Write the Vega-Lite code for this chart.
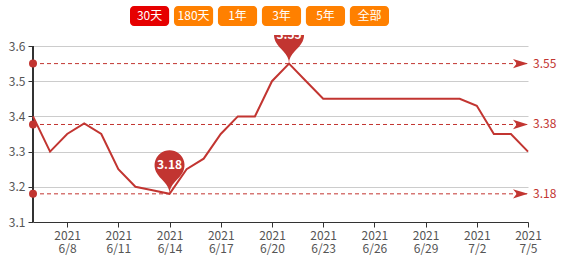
{
  "$schema": "https://vega.github.io/schema/vega-lite/v6.json",
  "autosize": {"type": "none"},
  "padding": {"left": 33, "top": 35, "right": 37, "bottom": 37},
  "width": 495,
  "height": 187,
  "background": "white",
  "config": {
    "font": "Noto Sans CJK SC",
    "view": {"stroke": null}
  },
  "datasets": {
    "price": [
      {"date": "2021-06-06", "value": 3.40},
      {"date": "2021-06-07", "value": 3.30},
      {"date": "2021-06-08", "value": 3.35},
      {"date": "2021-06-09", "value": 3.38},
      {"date": "2021-06-10", "value": 3.35},
      {"date": "2021-06-11", "value": 3.25},
      {"date": "2021-06-12", "value": 3.20},
      {"date": "2021-06-13", "value": 3.19},
      {"date": "2021-06-14", "value": 3.18},
      {"date": "2021-06-15", "value": 3.25},
      {"date": "2021-06-16", "value": 3.28},
      {"date": "2021-06-17", "value": 3.35},
      {"date": "2021-06-18", "value": 3.40},
      {"date": "2021-06-19", "value": 3.40},
      {"date": "2021-06-20", "value": 3.50},
      {"date": "2021-06-21", "value": 3.55},
      {"date": "2021-06-22", "value": 3.50},
      {"date": "2021-06-23", "value": 3.45},
      {"date": "2021-06-24", "value": 3.45},
      {"date": "2021-06-25", "value": 3.45},
      {"date": "2021-06-26", "value": 3.45},
      {"date": "2021-06-27", "value": 3.45},
      {"date": "2021-06-28", "value": 3.45},
      {"date": "2021-06-29", "value": 3.45},
      {"date": "2021-06-30", "value": 3.45},
      {"date": "2021-07-01", "value": 3.45},
      {"date": "2021-07-02", "value": 3.43},
      {"date": "2021-07-03", "value": 3.35},
      {"date": "2021-07-04", "value": 3.35},
      {"date": "2021-07-05", "value": 3.30}
    ],
    "buttons": [
      {"label": "30天", "state": "on"},
      {"label": "180天", "state": "off"},
      {"label": "1年", "state": "off"},
      {"label": "3年", "state": "off"},
      {"label": "5年", "state": "off"},
      {"label": "全部", "state": "off"}
    ]
  },
  "layer": [
    {
      "data": {"name": "price"},
      "encoding": {
        "x": {
          "field": "date",
          "type": "ordinal",
          "sort": null,
          "scale": {"type": "point", "padding": 0},
          "axis": {
            "title": null,
            "values": ["2021-06-08", "2021-06-11", "2021-06-14", "2021-06-17", "2021-06-20", "2021-06-23", "2021-06-26", "2021-06-29", "2021-07-02", "2021-07-05"],
            "labelExpr": "[substring(datum.value,0,4), toNumber(substring(datum.value,5,7)) + '/' + toNumber(substring(datum.value,8,10))]",
            "labelAngle": 0,
            "labelAlign": "center",
            "labelBaseline": "top",
            "labelFontSize": 12,
            "labelLineHeight": 13,
            "labelColor": "#555",
            "labelPadding": 3,
            "domainColor": "#333",
            "tickColor": "#333",
            "tickSize": 5,
            "grid": false
          }
        },
        "y": {
          "field": "value",
          "type": "quantitative",
          "scale": {"domain": [3.1, 3.63125], "nice": false, "zero": false},
          "axis": {
            "title": null,
            "values": [3.1, 3.2, 3.3, 3.4, 3.5, 3.6],
            "format": ".1f",
            "domain": false,
            "labelFontSize": 12,
            "labelColor": "#555",
            "labelPadding": 3,
            "tickColor": "#333",
            "tickSize": 5,
            "grid": true,
            "gridColor": "#cccccc"
          }
        }
      },
      "layer": [
        {
          "mark": {"type": "rule", "color": "#333", "strokeWidth": 1},
          "encoding": {
            "x": {"datum": "2021-06-06"},
            "y": {"datum": 3.1},
            "y2": {"datum": 3.6}
          }
        },
        {
          "mark": {"type": "line", "color": "#c23531", "strokeWidth": 2}
        },
        {
          "transform": [
            {"aggregate": [
              {"op": "max", "field": "value", "as": "max"},
              {"op": "mean", "field": "value", "as": "mean"},
              {"op": "min", "field": "value", "as": "min"}
            ]},
            {"fold": ["max", "mean", "min"], "as": ["kind", "value"]}
          ],
          "layer": [
            {
              "mark": {"type": "rule", "color": "#c23531", "strokeWidth": 1, "strokeDash": [4, 3]},
              "encoding": {
                "x": {"datum": "2021-06-06"},
                "x2": {"datum": "2021-07-05"},
                "y": {"field": "value", "type": "quantitative"}
              }
            },
            {
              "mark": {"type": "point", "shape": "circle", "filled": true, "opacity": 1, "size": 64, "color": "#c23531"},
              "encoding": {
                "x": {"datum": "2021-06-06"},
                "y": {"field": "value", "type": "quantitative"}
              }
            },
            {
              "mark": {"type": "point", "shape": "M0,0L-15,-4.7L-11.25,0L-15,4.7Z", "filled": true, "opacity": 1, "size": 4, "color": "#c23531"},
              "encoding": {
                "x": {"datum": "2021-07-05"},
                "y": {"field": "value", "type": "quantitative"}
              }
            },
            {
              "mark": {"type": "text", "align": "left", "baseline": "middle", "dx": 5, "fontSize": 12, "color": "#c23531"},
              "encoding": {
                "x": {"datum": "2021-07-05"},
                "y": {"field": "value", "type": "quantitative"},
                "text": {"field": "value", "type": "quantitative", "format": ".2f"}
              }
            }
          ]
        },
        {
          "transform": [
            {"joinaggregate": [
              {"op": "max", "field": "value", "as": "vmax"},
              {"op": "min", "field": "value", "as": "vmin"}
            ]},
            {"filter": "datum.value == datum.vmax || datum.value == datum.vmin"}
          ],
          "layer": [
            {
              "mark": {"type": "point", "clip": true, "shape": "M-13.55,-22.14A15,15,0,1,1,13.55,-22.14C9.69,-14.01,0,-10.5,0,0C0,-10.5,-9.69,-14.01,-13.55,-22.14Z", "filled": true, "opacity": 1, "size": 4, "color": "#c23531"}
            },
            {
              "mark": {"type": "text", "clip": true, "align": "center", "baseline": "middle", "dy": -28.6, "fontSize": 12, "fontWeight": "bold", "color": "white"},
              "encoding": {
                "text": {"field": "value", "type": "quantitative", "format": ".2f"}
              }
            }
          ]
        }
      ]
    },
    {
      "data": {"name": "buttons"},
      "encoding": {
        "x": {
          "field": "label",
          "type": "nominal",
          "sort": null,
          "scale": {"type": "band", "range": [97, 356], "paddingInner": 0.11, "paddingOuter": 0},
          "axis": null
        }
      },
      "layer": [
        {
          "mark": {"type": "bar", "cornerRadius": 4},
          "encoding": {
            "y": {"datum": 0, "type": "quantitative", "scale": {"domain": [0, 1], "range": [-29, -9]}, "axis": null},
            "y2": {"datum": 1},
            "color": {
              "field": "state",
              "type": "nominal",
              "scale": {"domain": ["on", "off"], "range": ["#e60000", "#ff8000"]},
              "legend": null
            }
          }
        },
        {
          "mark": {"type": "text", "align": "center", "baseline": "middle", "fontSize": 12, "color": "white"},
          "encoding": {
            "y": {"datum": 0.5, "type": "quantitative"},
            "text": {"field": "label", "type": "nominal"}
          }
        }
      ]
    }
  ],
  "resolve": {"scale": {"x": "independent", "y": "independent", "color": "independent"}}
}
